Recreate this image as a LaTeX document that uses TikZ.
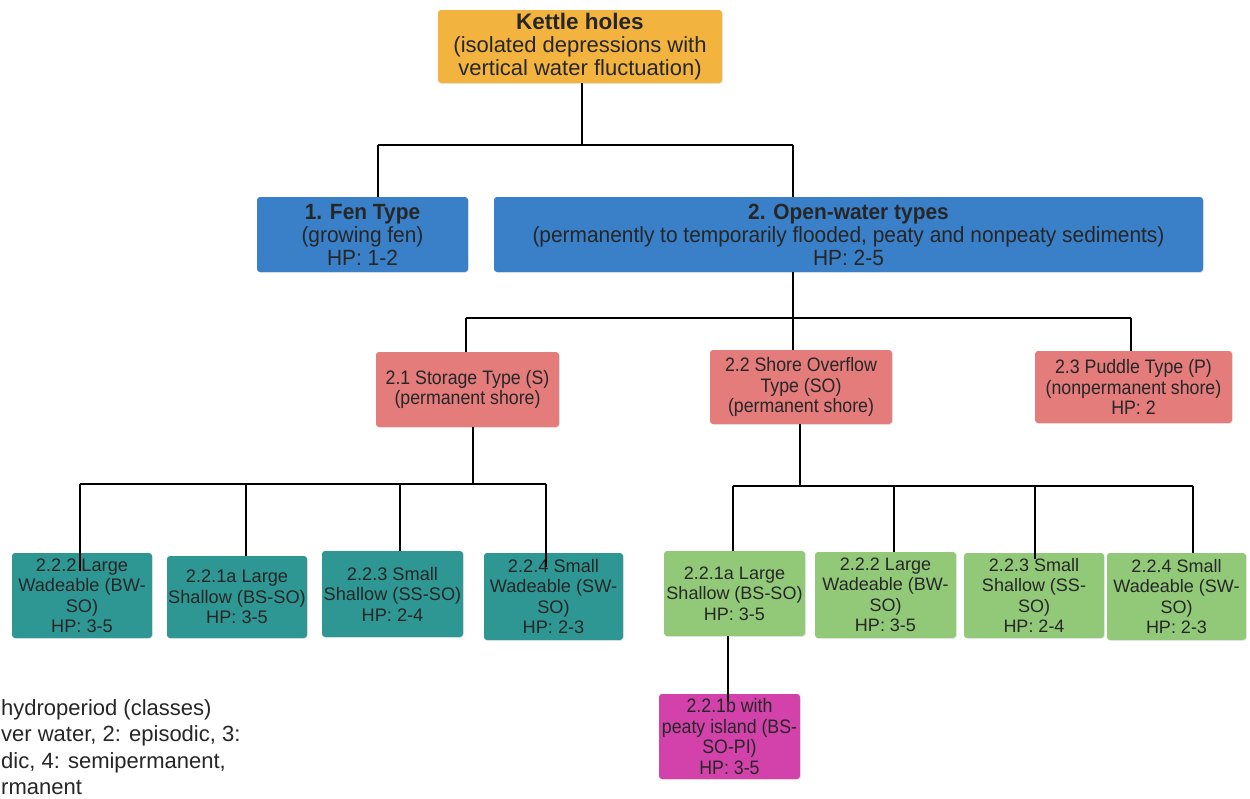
\documentclass[tikz,border=0pt]{standalone}
\usepackage{fontspec}
\setmainfont{Liberation Sans}
\newfontfamily\condfont{Liberation Sans}[FakeStretch=0.91]
\newfontfamily\bluefont{Liberation Sans}[FakeStretch=0.95]
\usetikzlibrary{shadows,calc}
\definecolor{kettleC}{RGB}{242,180,62}
\definecolor{blueC}{RGB}{58,128,201}
\definecolor{pinkC}{RGB}{228,124,124}
\definecolor{tealC}{RGB}{46,151,148}
\definecolor{greenC}{RGB}{146,201,121}
\definecolor{magC}{RGB}{210,66,170}
\tikzset{
  box/.style={rectangle, rounded corners=3pt, inner sep=1pt, align=center, text=black!85,
    drop shadow={opacity=0.18, shadow xshift=0.8pt, shadow yshift=-0.8pt}},
  kettlebox/.style={box, fill=kettleC, font=\fontsize{22}{23}\selectfont},
  bluebox/.style={box, fill=blueC, font=\bluefont\fontsize{22}{23}\selectfont},
  pinkbox/.style={box, fill=pinkC, font=\condfont\fontsize{19.5}{20.5}\selectfont},
  tealbox/.style={box, fill=tealC, font=\fontsize{18.2}{20.5}\selectfont},
  greenbox/.style={box, fill=greenC, font=\fontsize{18}{20.5}\selectfont},
  magbox/.style={box, fill=magC, font=\condfont\fontsize{19.5}{20.5}\selectfont},
  conn/.style={draw=black, line width=2.2pt},
  legendtext/.style={align=left, inner sep=0pt, text=black!85, font=\fontsize{22}{26.5}\selectfont}
}
\begin{document}
\begin{tikzpicture}[x=1pt,y=-1pt]
\useasboundingbox[fill=white] (0,0) rectangle (1250,798);

% nodes
\node[kettlebox, minimum width=284pt, minimum height=73pt] (kettle) at (580,46.5)
  {{\bfseries\fontsize{22.5}{23}\selectfont Kettle holes}\\(isolated depressions with\\vertical water fluctuation)};
\node[bluebox, minimum width=211pt, minimum height=75pt] (fen) at (362.5,234.5)
  {{\bfseries 1. Fen Type}\\(growing fen)\\HP: 1-2};
\node[bluebox, minimum width=709pt, minimum height=75pt] (open) at (848.5,234.5)
  {{\bfseries 2. Open-water types}\\(permanently to temporarily flooded, peaty and nonpeaty sediments)\\HP: 2-5};
\node[pinkbox, minimum width=183pt, minimum height=75pt] (s21) at (467.5,389.5)
  {2.1 Storage Type (S)\\(permanent shore)};
\node[pinkbox, minimum width=182pt, minimum height=74pt] (s22) at (801,387)
  {2.2 Shore Overflow\\Type (SO)\\(permanent shore)};
\node[pinkbox, minimum width=197pt, minimum height=72pt] (s23) at (1133.5,387)
  {2.3 Puddle Type (P)\\(nonpermanent shore)\\HP: 2};

\node[tealbox, minimum width=140pt, minimum height=85pt] (t1) at (82,595.5)
  {2.2.2 Large\\Wadeable (BW-\\SO)\\HP: 3-5};
\node[tealbox, minimum width=140pt, minimum height=82pt] (t2) at (237,597)
  {2.2.1a Large\\Shallow (BS-SO)\\HP: 3-5};
\node[tealbox, minimum width=141pt, minimum height=86pt] (t3) at (392.5,594)
  {2.2.3 Small\\Shallow (SS-SO)\\HP: 2-4};
\node[tealbox, minimum width=139pt, minimum height=87pt] (t4) at (553.5,596.5)
  {2.2.4 Small\\Wadeable (SW-\\SO)\\HP: 2-3};

\node[greenbox, minimum width=141pt, minimum height=85pt] (g1) at (734.5,593.5)
  {2.2.1a Large\\Shallow (BS-SO)\\HP: 3-5};
\node[greenbox, minimum width=141pt, minimum height=86pt] (g2) at (885.5,595)
  {2.2.2 Large\\Wadeable (BW-\\SO)\\HP: 3-5};
\node[greenbox, minimum width=140pt, minimum height=85pt] (g3) at (1034,595.5)
  {2.2.3 Small\\Shallow (SS-\\SO)\\HP: 2-4};
\node[greenbox, minimum width=139pt, minimum height=87pt] (g4) at (1176.5,596.5)
  {2.2.4 Small\\Wadeable (SW-\\SO)\\HP: 2-3};

\node[magbox, minimum width=141pt, minimum height=85pt] (m) at (729.5,736.5)
  {2.2.1b with\\peaty island (BS-\\SO-PI)\\HP: 3-5};

% connectors: level 1
\coordinate (j1) at (582,145);
\coordinate (j1l) at (378,145);
\coordinate (j1r) at (793,145);
\draw[conn] (kettle.south -| j1) -- (j1);
\draw[conn] (j1l) -- (j1r);
\draw[conn] (j1l) -- (j1l |- fen.north);
\draw[conn] (j1r) -- (j1r |- open.north);

% level 2
\coordinate (j2) at (793,318);
\coordinate (j2l) at (466,318);
\coordinate (j2r) at (1131,318);
\draw[conn] (open.south -| j2) -- (j2);
\draw[conn] (j2l) -- (j2r);
\draw[conn] (j2l) -- (j2l |- s21.north);
\draw[conn] (j2) -- (j2 |- s22.north);
\draw[conn] (j2r) -- (j2r |- s23.north);

% level 3 storage
\coordinate (j3) at (473,484);
\coordinate (j3a) at (80,484);
\coordinate (j3b) at (246,484);
\coordinate (j3c) at (400,484);
\coordinate (j3d) at (546,484);
\draw[conn] (s21.south -| j3) -- (j3);
\draw[conn] (j3a) -- (j3d);
\draw[conn] (j3a) -- ($(j3a |- t1.north)+(0,18)$);
\draw[conn] (j3b) -- (j3b |- t2.north);
\draw[conn] (j3c) -- (j3c |- t3.north);
\draw[conn] (j3d) -- ($(j3d |- t4.north)+(0,14)$);

% level 3 shore overflow
\coordinate (j4) at (800,486);
\coordinate (j4a) at (733,486);
\coordinate (j4b) at (894,486);
\coordinate (j4c) at (1035,486);
\coordinate (j4d) at (1193,486);
\draw[conn] (s22.south -| j4) -- (j4);
\draw[conn] (j4a) -- (j4d);
\draw[conn] (j4a) -- (j4a |- g1.north);
\draw[conn] (j4b) -- (j4b |- g2.north);
\draw[conn] (j4c) -- ($(j4c |- g3.north)+(0,6)$);
\draw[conn] (j4d) -- (j4d |- g4.north);

% level 4
\coordinate (j5) at (728,640);
\draw[conn] (g1.south -| j5) -- ($(j5 |- m.north)+(0,8)$);

% legend, as far as the reference prints it
\node[legendtext, anchor=north west] (legend) at (1,699)
  {hydroperiod (classes)\\ver water, 2: episodic, 3:\\dic, 4: semipermanent,\\rmanent};
\end{tikzpicture}
\end{document}
